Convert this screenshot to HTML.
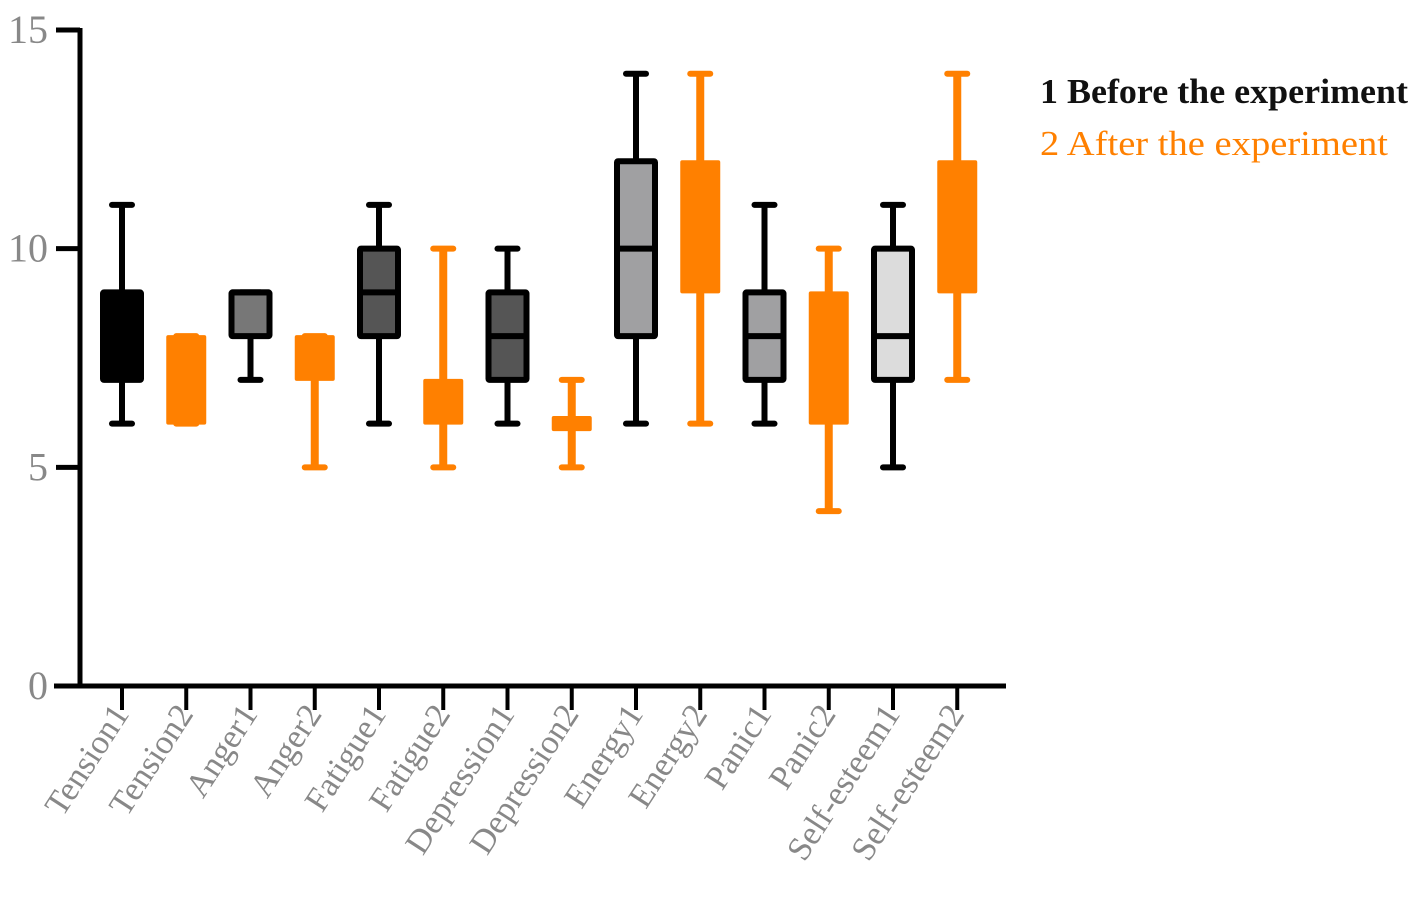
<!DOCTYPE html>
<html><head><meta charset="utf-8"><style>
html,body{margin:0;padding:0;background:#fff}
svg{display:block}
text{font-family:"Liberation Serif",serif}
</style></head><body>
<svg id="chart" width="1418" height="911" viewBox="0 0 1418 911" xmlns="http://www.w3.org/2000/svg">
<g id="axes"></g>
<g id="boxes"></g>
<g id="legend">
<text x="1040" y="103" font-size="35" font-weight="bold" fill="#111" textLength="368" lengthAdjust="spacingAndGlyphs">1 Before the experiment</text>
<text x="1040" y="155" font-size="35" fill="#ff8000" textLength="348" lengthAdjust="spacingAndGlyphs">2 After the experiment</text>
</g>
</svg>
<script>
const categories = ["Tension1","Tension2","Anger1","Anger2","Fatigue1","Fatigue2","Depression1","Depression2","Energy1","Energy2","Panic1","Panic2","Self-esteem1","Self-esteem2"];
const whiskerMin = [6,6,7,5,6,5,6,5,6,6,6,4,5,7];
const q1 = [7,6,8,7,8,6,7,5.85,8,9,7,6,7,9];
const median = [8,7,9,7.5,9,6.5,8,6,10,10.5,8,7.5,8,10.5];
const q3 = [9,8,9,8,10,7,9,6.15,12,12,9,9,10,12];
const whiskerMax = [11,8,9,8,11,10,10,7,14,14,11,10,11,14];
const fills = ["#000","#ff8000","#777","#ff8000","#555","#ff8000","#555","#ff8000","#a0a0a2","#ff8000","#a0a0a2","#ff8000","#dcdcdc","#ff8000"];
const yTicks = [0,5,10,15];

const NS="http://www.w3.org/2000/svg";
const x0=80, y0=686, yTop=30;
const yScale = v => y0 - (v/15)*(y0-yTop);
const xScale = i => 122 + i*64.25;
function mk(tag, attrs, parent){const e=document.createElementNS(NS,tag);for(const k in attrs)e.setAttribute(k,attrs[k]);parent.appendChild(e);return e;}
const axes=document.getElementById('axes'), boxes=document.getElementById('boxes');

let yl=mk('line',{x1:x0,y1:yTop-2,x2:x0,y2:y0+2,stroke:'#000','stroke-width':5},axes);


let xl=mk('line',{x1:x0-26,y1:y0,x2:1006,y2:y0,stroke:'#000','stroke-width':5},axes);


yTicks.forEach(t=>{
  const y=yScale(t);
  let tk=mk('line',{x1:x0-24,y1:y,x2:x0,y2:y,stroke:'#000','stroke-width':5},axes);
  
  
  let tx=mk('text',{x:x0-32,y:y+13,'text-anchor':'end','font-size':40,fill:'#888'},axes);
  tx.textContent=t;
  
  
});
categories.forEach((c,i)=>{
  const x=xScale(i);
  let tk=mk('line',{x1:x,y1:y0,x2:x,y2:y0+24,stroke:'#000','stroke-width':4},axes);
  
  
  let tx=mk('text',{x:x+8,y:y0+28,'text-anchor':'end','font-size':34,fill:'#888',transform:`rotate(-57 ${x+8} ${y0+28})`},axes);
  tx.textContent=c;
  
  

  const orange = fills[i]==="#ff8000";
  const stroke = orange ? '#ff8000' : '#000';
  const g=mk('g',{},boxes);
  
  
  const w=orange?8:6;
  mk('line',{x1:x,y1:yScale(whiskerMin[i]),x2:x,y2:yScale(whiskerMax[i]),stroke:stroke,'stroke-width':w},g);
  mk('line',{x1:x-10,y1:yScale(whiskerMin[i]),x2:x+10,y2:yScale(whiskerMin[i]),stroke:stroke,'stroke-width':6,'stroke-linecap':'round'},g);
  mk('line',{x1:x-10,y1:yScale(whiskerMax[i]),x2:x+10,y2:yScale(whiskerMax[i]),stroke:stroke,'stroke-width':6,'stroke-linecap':'round'},g);
  const bw=38;
  mk('rect',{x:x-bw/2,y:yScale(q3[i]),width:bw,height:yScale(q1[i])-yScale(q3[i]),fill:fills[i],stroke:stroke,'stroke-width':orange?2:6,rx:1},g);
  if(!orange) mk('line',{x1:x-bw/2,y1:yScale(median[i]),x2:x+bw/2,y2:yScale(median[i]),stroke:'#000','stroke-width':6},g);
});
</script>
</body></html>
